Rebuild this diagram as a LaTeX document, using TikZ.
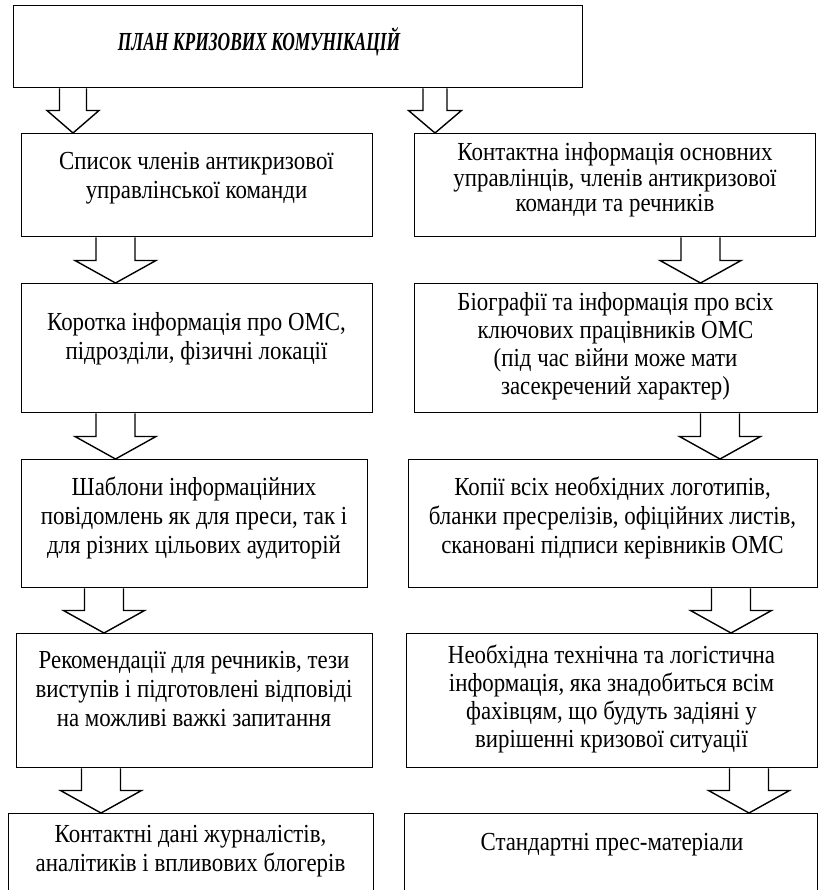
\documentclass[tikz,border=0pt]{standalone}
\usepackage{fontspec}
\setmainfont[FakeStretch=0.88]{Liberation Serif}
\newfontfamily\titlefont[FakeStretch=0.67]{Liberation Serif}
\usetikzlibrary{calc}

% hollow block arrow: from box, to box, x, half shaft, half head
\newcommand{\fatarrow}[5]{%
  \draw[fat] let \p1=(#1.south), \p2=(#2.north) in
    ({#3-#4},\y1) -- ({#3-#4},\y2+22.5pt) -- ({#3-#5},\y2+22.5pt) -- (#3,\y2)
    -- ({#3+#5},\y2+22.5pt) -- ({#3+#4},\y2+22.5pt) -- ({#3+#4},\y1);
}

\begin{document}
\begin{tikzpicture}[x=1pt,y=-1pt,
  box/.style={draw, line width=1.4pt, inner sep=0pt, anchor=north west},
  txt/.style={align=center, font=\fontsize{26}{29}\selectfont},
  titletxt/.style={font=\titlefont\bfseries\itshape\fontsize{26}{30}\selectfont},
  fat/.style={line width=1.4pt, line join=miter}]
\useasboundingbox (0,0) rectangle (822,890);
\clip (0,0) rectangle (822,890);

% top box
\node[box, minimum width=569, minimum height=82] (plan) at (13,5) {};
\node[titletxt] (plantxt) at (259,42) {ПЛАН КРИЗОВИХ КОМУНІКАЦІЙ};

% left column
\node[box, minimum width=351, minimum height=103] (spysok) at (21,133) {};
\node[txt] (spysoktxt) at (196.5,178) {Список членів антикризової\\управлінської команди};
\node[box, minimum width=351, minimum height=129] (korotka) at (21,283) {};
\node[txt] (korotkatxt) at (196.5,339) {Коротка інформація про ОМС,\\підрозділи, фізичні локації};
\node[box, minimum width=346, minimum height=128] (shablony) at (21,459) {};
\node[txt] (shablonytxt) at (194,518) {Шаблони інформаційних\\повідомлень як для преси, так і\\для різних цільових аудиторій};
\node[box, minimum width=356, minimum height=134] (rekomend) at (16,633) {};
\node[txt] (rekomendtxt) at (194,689) {Рекомендації для речників, тези\\виступів і підготовлені відповіді\\на можливі важкі запитання};
\node[box, minimum width=365, minimum height=90] (zhurnal) at (8,813) {};
\node[txt] (zhurnaltxt) at (190.5,851) {Контактні дані журналістів,\\аналітиків і впливових блогерів};

% right column
\node[box, minimum width=401, minimum height=103] (kontakty) at (414,133) {};
\node[txt, font=\fontsize{26}{25.5}\selectfont] (kontaktytxt) at (615,180) {Контактна інформація основних\\управлінців, членів антикризової\\команди та речників};
\node[box, minimum width=403, minimum height=129] (biohrafii) at (414,283) {};
\node[txt, font=\fontsize{26}{28}\selectfont] (biohrafiitxt) at (615.5,346) {Біографії та інформація про всіх\\ключових працівників ОМС\\(під час війни може мати\\засекречений характер)};
\node[box, minimum width=409, minimum height=128] (kopii) at (408,459) {};
\node[txt] (kopiitxt) at (612.5,518) {Копії всіх необхідних логотипів,\\бланки пресрелізів, офіційних листів,\\скановані підписи керівників ОМС};
\node[box, minimum width=411, minimum height=134] (tekhnichna) at (406,633) {};
\node[txt, font=\fontsize{26}{28}\selectfont] (tekhnichnatxt) at (611.5,699) {Необхідна технічна та логістична\\інформація, яка знадобиться всім\\фахівцям, що будуть задіяні у\\вирішенні кризової ситуації};
\node[box, minimum width=413, minimum height=90] (presa) at (404,813) {};
\node[txt] (presatxt) at (612,845) {Стандартні прес-матеріали};

% arrows
\fatarrow{plan}{spysok}{73}{13.5}{26}
\fatarrow{plan}{kontakty}{435}{12}{26.5}
\foreach \from/\to/\xpos in {spysok/korotka/115.5, korotka/shablony/115.5,
  shablony/rekomend/104, rekomend/zhurnal/101,
  kontakty/biohrafii/700.5, biohrafii/kopii/720,
  kopii/tekhnichna/731, tekhnichna/presa/749} {
  \fatarrow{\from}{\to}{\xpos}{19.5}{40.5}
}
\end{tikzpicture}
\end{document}
